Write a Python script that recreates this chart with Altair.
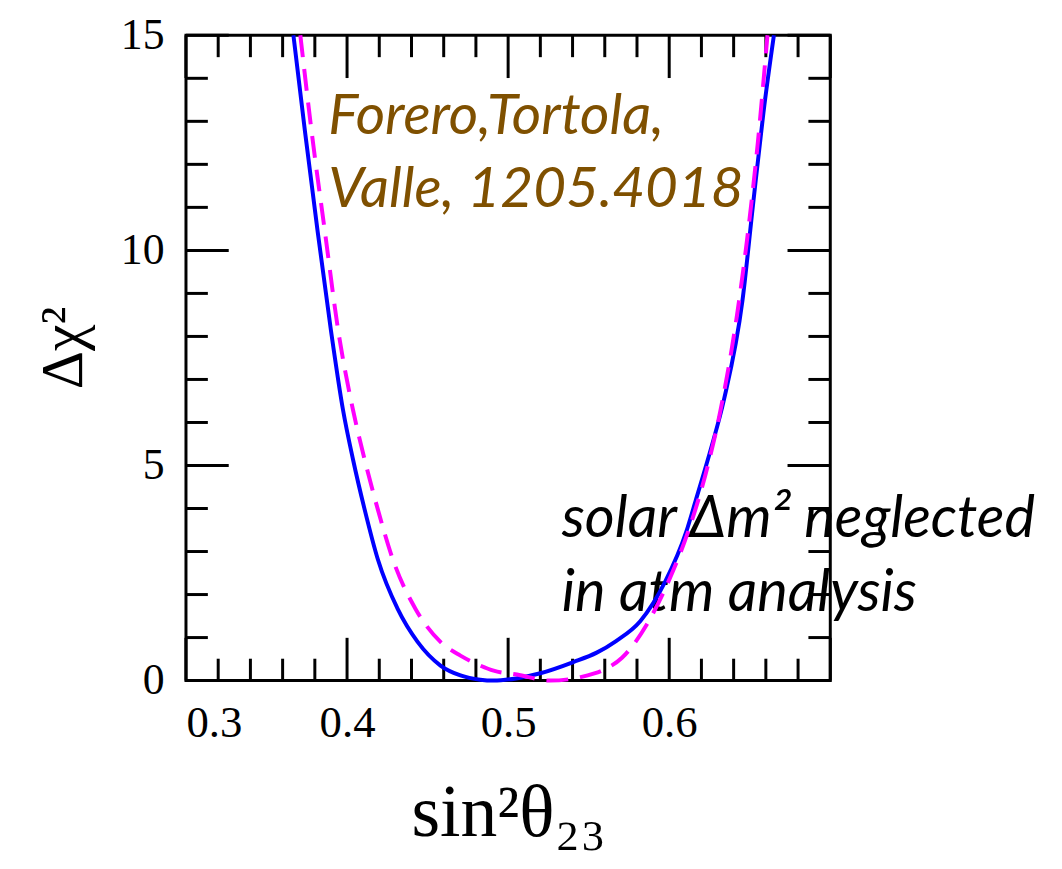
import altair as alt
import pandas as pd

# ---- data ----
blue_x = [0.3667, 0.3739, 0.3817, 0.390, 0.3975, 0.4037, 0.4109, 0.4191, 0.4315, 0.4438,
          0.458, 0.4704, 0.4827, 0.491, 0.505, 0.52, 0.5405, 0.555, 0.567, 0.582,
          0.5975, 0.6105, 0.6167, 0.626, 0.634, 0.6455, 0.652, 0.6585, 0.665]
blue_y = [15.0, 12.76, 10.45, 8.14, 6.29, 5.14, 3.98, 2.82, 1.66, 0.9,
          0.35, 0.12, 0.02, 0.0, 0.05, 0.17, 0.43, 0.65, 0.92, 1.38,
          2.3, 3.45, 4.22, 5.4, 6.53, 8.84, 11.05, 13.2, 15.0]

mag_x = [0.371, 0.378, 0.3862, 0.3945, 0.4037, 0.4109, 0.4191, 0.4284, 0.4426, 0.458,
         0.4704, 0.4827, 0.491, 0.5055, 0.526, 0.545, 0.553, 0.561, 0.5707, 0.586,
         0.5995, 0.613, 0.624, 0.633, 0.6425, 0.6485, 0.655, 0.661]
mag_y = [15.0, 12.76, 10.45, 8.14, 6.29, 5.14, 3.98, 2.82, 1.66, 0.9,
         0.58, 0.35, 0.23, 0.14, 0.0, 0.08, 0.16, 0.28, 0.53, 1.3,
         2.3, 3.6, 5.0, 6.5, 8.6, 10.3, 12.5, 15.0]

x_tick_labels = [0.3, 0.4, 0.5, 0.6]
y_tick_labels = [0, 5, 10, 15]
x_major_ticks = [0.3, 0.4, 0.5, 0.6, 0.7]
x_minor_ticks = [0.32, 0.34, 0.36, 0.38, 0.42, 0.44, 0.46, 0.48, 0.52, 0.54, 0.56, 0.58,
                 0.62, 0.64, 0.66, 0.68]
y_major_ticks = [0, 5, 10, 15]
y_minor_ticks = [1, 2, 3, 4, 6, 7, 8, 9, 11, 12, 13, 14]

ref_x = [0.3883, 0.3883]
ref_y = [12.71, 11.02]
ref_text = ["Forero,Tortola,", "Valle, 1205.4018"]

note_x = [0.5333, 0.5333]
note_y = [3.33, 1.62]
note_text = ["solar \u0394m\u00b2 neglected", "in atm analysis"]

# ---- layout constants ----
W, H = 648, 649
MAJ, MIN = 43, 22
SERIF = "Liberation Serif"

x_scale = alt.Scale(domain=[0.3, 0.7], nice=False, zero=False)
y_scale = alt.Scale(domain=[0, 15], nice=False, zero=False)

x_axis = alt.Axis(values=x_tick_labels, format=".1f", ticks=False, tickSize=0, domain=False, grid=False,
                  labelFont=SERIF, labelFontSize=45, labelPadding=20, labelColor="black",
                  title="sin\u00b2\u03b8\u2082\u2083", titleFont=SERIF, titleFontSize=74,
                  titleFontWeight="normal", titleColor="black", titleX=W / 2, titleY=156,
                  titleBaseline="alphabetic", titleAlign="center")
y_axis = alt.Axis(values=y_tick_labels, format="d", ticks=False, tickSize=0, domain=False, grid=False,
                  labelFont=SERIF, labelFontSize=44, labelPadding=22, labelColor="black",
                  title="\u0394\u03c7\u00b2", titleFont=SERIF, titleFontSize=60,
                  titleFontWeight="normal", titleColor="black", titleAngle=270,
                  titleX=-105, titleY=314, titleBaseline="alphabetic", titleAlign="center")

X = alt.X("x:Q", scale=x_scale, axis=x_axis)
Y = alt.Y("y:Q", scale=y_scale, axis=y_axis)

blue_df = pd.DataFrame({"x": blue_x, "y": blue_y})
mag_df = pd.DataFrame({"x": mag_x, "y": mag_y})

blue = alt.Chart(blue_df).mark_line(color="#0000ff", strokeWidth=4, interpolate="monotone").encode(x=X, y=Y)
mag = alt.Chart(mag_df).mark_line(color="#ff00ff", strokeWidth=4, strokeDash=[22, 12],
                                  interpolate="monotone").encode(x=X, y=Y)

def xticks(vals, length):
    df = pd.DataFrame({"x": vals})
    bottom = alt.Chart(df).mark_rule(color="black", strokeWidth=3).encode(
        x=X, y=alt.value(H), y2=alt.value(H - length))
    top = alt.Chart(df).mark_rule(color="black", strokeWidth=3).encode(
        x=X, y=alt.value(0), y2=alt.value(length))
    return [bottom, top]

def yticks(vals, length):
    df = pd.DataFrame({"y": vals})
    left = alt.Chart(df).mark_rule(color="black", strokeWidth=3).encode(
        y=Y, x=alt.value(0), x2=alt.value(length))
    right = alt.Chart(df).mark_rule(color="black", strokeWidth=3).encode(
        y=Y, x=alt.value(W), x2=alt.value(W - length))
    return [left, right]

ref_df = pd.DataFrame({"x": ref_x, "y": ref_y, "t": ref_text})
note_df = pd.DataFrame({"x": note_x, "y": note_y, "t": note_text})

ref = alt.Chart(ref_df).mark_text(align="left", baseline="alphabetic", font="Lato", fontStyle="italic",
                                  fontSize=57, color="#7f5000").encode(x=X, y=Y, text="t:N")
note = alt.Chart(note_df).mark_text(align="left", baseline="alphabetic", font="Lato", fontStyle="italic",
                                    fontSize=58, color="black").encode(x=X, y=Y, text="t:N")

layers = (xticks(x_major_ticks, MAJ) + xticks(x_minor_ticks, MIN) +
          yticks(y_major_ticks, MAJ) + yticks(y_minor_ticks, MIN) +
          [ref, note, blue, mag])

chart = alt.layer(*layers).properties(
    width=W, height=H,
    background="white",
    autosize=alt.AutoSizeParams(type="none"),
    padding={"left": 179, "top": 25, "right": 225, "bottom": 179},
).configure_view(stroke="black", strokeWidth=3)

chart.save("out.html", embed_options={"renderer": "svg", "actions": False})
